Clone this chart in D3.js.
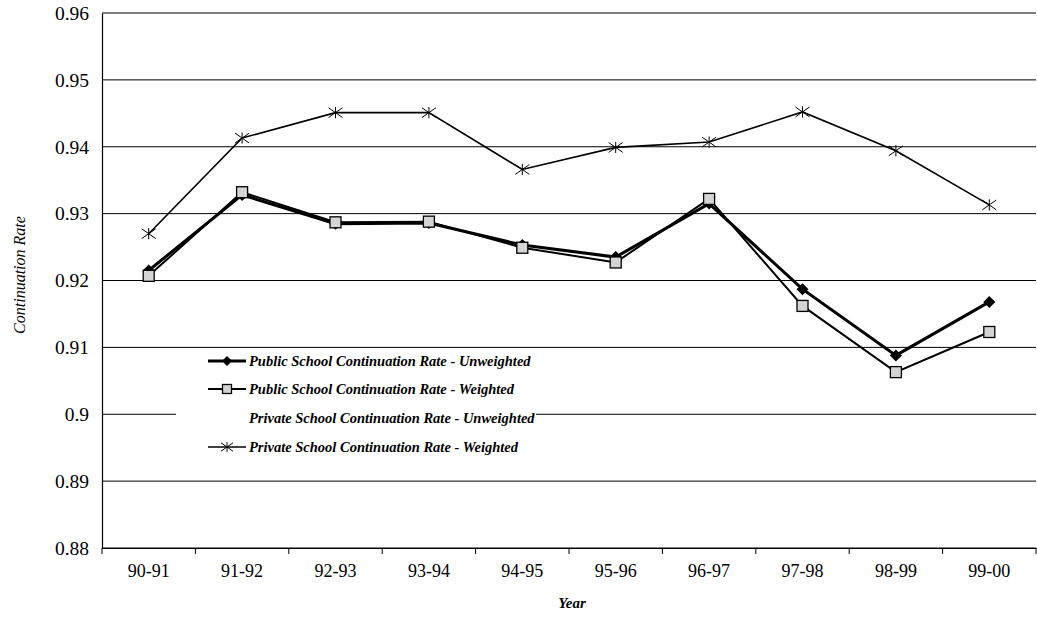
<!DOCTYPE html>
<html>
<head>
<meta charset="utf-8">
<script src="https://cdn.jsdelivr.net/npm/d3@7.9.0/dist/d3.min.js"></script>
<style>
  body { margin: 0; background: #fff; }
  svg { font-family: "Liberation Serif", "DejaVu Serif", serif; }
</style>
</head>
<body>
<svg id="chart" width="1037" height="619"></svg>
<script>
const years = ['90-91', '91-92', '92-93', '93-94', '94-95', '95-96', '96-97', '97-98', '98-99', '99-00'];
const publicUnweighted = [0.9215, 0.9328, 0.9285, 0.9286, 0.9253, 0.9235, 0.9315, 0.9187, 0.9088, 0.9168];
const publicWeighted = [0.9207, 0.9332, 0.9287, 0.9288, 0.9249, 0.9227, 0.9322, 0.9162, 0.9063, 0.9123];
const privateWeighted = [0.9270, 0.9413, 0.9451, 0.9451, 0.9366, 0.9399, 0.9407, 0.9452, 0.9394, 0.9313];
const yTicks = [0.88, 0.89, 0.9, 0.91, 0.92, 0.93, 0.94, 0.95, 0.96];
const legendLabels = [
  'Public School Continuation Rate - Unweighted',
  'Public School Continuation Rate - Weighted',
  'Private School Continuation Rate - Unweighted',
  'Private School Continuation Rate - Weighted'
];

const svg = d3.select('#chart');
const plotL = 102, plotR = 1036, plotT = 13, plotB = 548;

const x = d3.scaleBand().domain(years).range([plotL, plotR]);
const y = d3.scaleLinear().domain([0.88, 0.96]).range([plotB, plotT]);
const cx = (i) => x(years[i]) + x.bandwidth() / 2;

// gridlines
svg.append('g').selectAll('line')
  .data(yTicks)
  .join('line')
  .attr('x1', plotL).attr('x2', plotR)
  .attr('y1', d => y(d)).attr('y2', d => y(d))
  .attr('stroke', '#000').attr('stroke-width', 1);

// y axis
const yAxis = svg.append('g')
  .attr('transform', `translate(${plotL},0)`)
  .call(d3.axisLeft(y).tickValues(yTicks).tickSize(0).tickPadding(13)
    .tickFormat(d => String(+d.toFixed(2))));
yAxis.select('.domain').attr('stroke', '#000').attr('stroke-width', 1.2);
yAxis.selectAll('text').attr('font-size', 19.5).attr('font-family', '"Liberation Serif", serif')
  .attr('fill', '#000');

// x axis
const xAxis = svg.append('g')
  .attr('transform', `translate(0,${plotB})`)
  .call(d3.axisBottom(x).tickSize(0).tickPadding(16));
xAxis.select('.domain').attr('stroke', '#000').attr('stroke-width', 1.2);
xAxis.selectAll('text').attr('font-size', 18).attr('font-family', '"Liberation Serif", serif')
  .attr('fill', '#000');
xAxis.selectAll('.bound')
  .data(d3.range(years.length + 1))
  .join('line')
  .attr('x1', i => plotL + i * x.step()).attr('x2', i => plotL + i * x.step())
  .attr('y1', 0).attr('y2', 6)
  .attr('stroke', '#000');

// axis titles
svg.append('text')
  .attr('transform', `translate(25,275) rotate(-90)`)
  .attr('text-anchor', 'middle')
  .attr('font-size', 16).attr('font-style', 'italic')
  .text('Continuation Rate');
svg.append('text')
  .attr('x', 572).attr('y', 608)
  .attr('text-anchor', 'middle')
  .attr('font-size', 15).attr('font-style', 'italic').attr('font-weight', 'bold')
  .text('Year');

// legend background
const legend = svg.append('g');
legend.append('rect')
  .attr('x', 176).attr('y', 350).attr('width', 360).attr('height', 115)
  .attr('fill', '#fff');

// series
const line = d3.line().x((d, i) => cx(i)).y(d => y(d));

function diamond(g, px, py, s) {
  g.append('path')
    .attr('d', `M${px},${py - s}L${px + s},${py}L${px},${py + s}L${px - s},${py}Z`)
    .attr('fill', '#000');
}
function square(g, px, py, s) {
  g.append('rect')
    .attr('x', px - s).attr('y', py - s).attr('width', 2 * s).attr('height', 2 * s)
    .attr('fill', '#d4d4d4').attr('stroke', '#000').attr('stroke-width', 1.3);
}
function star(g, px, py, s) {
  g.append('path')
    .attr('d', `M${px - s},${py - s * 0.7}L${px + s},${py + s * 0.7}M${px - s},${py + s * 0.7}L${px + s},${py - s * 0.7}M${px},${py - s * 0.8}L${px},${py + s * 0.8}`)
    .attr('stroke', '#000').attr('stroke-width', 1).attr('fill', 'none');
}

const plot = svg.append('g');
plot.append('path').datum(privateWeighted).attr('d', line)
  .attr('fill', 'none').attr('stroke', '#000').attr('stroke-width', 1.6);
plot.append('path').datum(publicWeighted).attr('d', line)
  .attr('fill', 'none').attr('stroke', '#000').attr('stroke-width', 2);
plot.append('path').datum(publicUnweighted).attr('d', line)
  .attr('fill', 'none').attr('stroke', '#000').attr('stroke-width', 3);

privateWeighted.forEach((d, i) => star(plot, cx(i), y(d), 7));
publicUnweighted.forEach((d, i) => diamond(plot, cx(i), y(d), 6));
publicWeighted.forEach((d, i) => square(plot, cx(i), y(d), 5.5));

// legend entries
const ly = [361, 389, 418, 447];
legendLabels.forEach((label, i) => {
  const yy = ly[i];
  if (i === 0) {
    legend.append('line').attr('x1', 208).attr('x2', 246).attr('y1', yy).attr('y2', yy)
      .attr('stroke', '#000').attr('stroke-width', 3);
    diamond(legend, 227, yy, 5);
  } else if (i === 1) {
    legend.append('line').attr('x1', 208).attr('x2', 246).attr('y1', yy).attr('y2', yy)
      .attr('stroke', '#000').attr('stroke-width', 2);
    square(legend, 227, yy, 4.5);
  } else if (i === 3) {
    legend.append('line').attr('x1', 208).attr('x2', 246).attr('y1', yy).attr('y2', yy)
      .attr('stroke', '#000').attr('stroke-width', 1.6);
    star(legend, 227, yy, 6);
  }
  legend.append('text')
    .attr('x', 249).attr('y', yy + 5)
    .attr('font-size', 14.5).attr('font-style', 'italic').attr('font-weight', 'bold')
    .text(label);
});
</script>
</body>
</html>
